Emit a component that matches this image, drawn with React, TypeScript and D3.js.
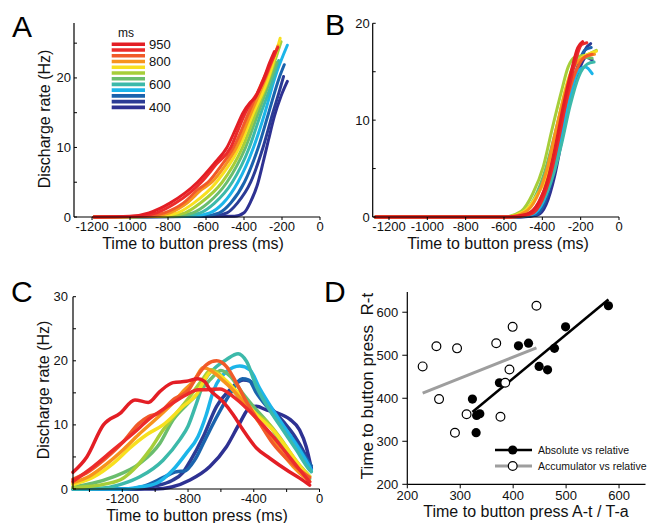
import React from "react";
import * as d3 from "d3";

type Pt = [number, number];

const FONT = "'Liberation Sans', Arial, Helvetica, sans-serif";

// Interval conditions (ms) and their colours (red = 950 ... navy = 400)
const intervals = [950, 900, 850, 800, 750, 700, 650, 600, 550, 500, 450, 400];
const seriesColors = [
  "#e31e25", "#ec2b2b", "#f15a29", "#f7941d", "#f8e01f", "#a6ce39",
  "#6abd6e", "#3cb9aa", "#1cb5e9", "#1a63ad", "#2b3b95", "#2e3192",
];
const legendLabels = ["950", "", "", "800", "", "", "", "600", "", "", "", "400"];

// Panel A: [time to button press (ms), discharge rate (Hz)]
const curvesA: Pt[][] = [
  [[-1190, 0], [-1000, 0.1], [-900, 0.6], [-790, 2], [-645, 5], [-560, 7.6], [-490, 10], [-445, 12.6], [-405, 15], [-370, 16.4], [-340, 17.2], [-295, 20], [-265, 22.2], [-240, 23.8]],
  [[-1190, 0], [-960, 0.1], [-860, 0.6], [-760, 2], [-625, 5], [-545, 7.6], [-470, 10], [-430, 12.6], [-392, 15], [-360, 16.6], [-330, 17.8], [-290, 20], [-255, 22.4], [-222, 24.4]],
  [[-1190, 0], [-920, 0.1], [-820, 0.6], [-720, 2], [-640, 4.0], [-590, 5], [-520, 7.4], [-455, 10], [-375, 15], [-295, 20], [-238, 23.4]],
  [[-1190, 0], [-890, 0.1], [-790, 0.6], [-700, 2], [-620, 4.0], [-570, 5], [-500, 7.4], [-440, 10], [-362, 15], [-285, 20], [-222, 24.6]],
  [[-1190, 0], [-850, 0.1], [-750, 0.6], [-665, 2], [-545, 5], [-425, 10], [-350, 15], [-272, 20], [-210, 25.7]],
  [[-1190, 0], [-810, 0.1], [-710, 0.6], [-630, 2], [-515, 5], [-408, 10], [-338, 15], [-268, 20], [-205, 25.2]],
  [[-1190, 0], [-770, 0.1], [-670, 0.6], [-590, 2], [-490, 5], [-392, 10], [-325, 15], [-258, 20], [-228, 22.2]],
  [[-1190, 0], [-730, 0.1], [-630, 0.6], [-555, 2], [-462, 5], [-372, 10], [-310, 15], [-245, 20], [-218, 22.5]],
  [[-1190, 0], [-680, 0.1], [-580, 0.6], [-510, 2], [-432, 5], [-350, 10], [-290, 15], [-238, 20], [-172, 24.7]],
  [[-1190, 0], [-620, 0.1], [-530, 0.6], [-470, 2], [-398, 5], [-325, 10], [-270, 15], [-215, 20], [-188, 21.9]],
  [[-1190, 0], [-570, 0.1], [-490, 0.6], [-435, 2], [-365, 5], [-300, 10], [-248, 15], [-215, 18], [-192, 20.2]],
  [[-1190, 0], [-450, 0.1], [-400, 0.6], [-365, 2.2], [-330, 4.6], [-300, 7.8], [-272, 11], [-240, 14.5], [-205, 17.4], [-172, 19.5]],
];

// Panel B
const curvesB: Pt[][] = [
  [[-1270, 0], [-600, 0], [-480, 0.3], [-420, 1.5], [-370, 4], [-330, 7.5], [-290, 11.5], [-250, 15], [-215, 17.5], [-190, 18.1]],
  [[-1270, 0], [-560, 0], [-460, 0.3], [-400, 1.8], [-355, 4.5], [-315, 8], [-275, 12], [-235, 15.5], [-195, 17.8], [-168, 18.0]],
  [[-1270, 0], [-560, 0], [-470, 0.4], [-410, 1.8], [-360, 4.6], [-320, 8], [-280, 11.5], [-230, 14.8], [-180, 16.5], [-140, 16.8]],
  [[-1270, 0], [-580, 0], [-490, 0.5], [-430, 2], [-375, 5], [-335, 8.5], [-290, 12.2], [-245, 15.2], [-190, 16.4], [-128, 16.8]],
  [[-1270, 0], [-590, 0], [-500, 0.5], [-430, 2.2], [-365, 5], [-320, 9.5], [-280, 13.2], [-240, 15.5], [-190, 16.5], [-118, 17.1]],
  [[-1270, 0], [-600, 0], [-510, 0.6], [-450, 2.4], [-395, 5.2], [-350, 9], [-300, 13], [-265, 15.5], [-230, 16.5], [-160, 16.8], [-118, 17.2]],
  [[-1270, 0], [-590, 0], [-500, 0.5], [-440, 2], [-385, 4.8], [-335, 8.5], [-285, 12.5], [-240, 15.4], [-190, 16.5], [-140, 16.4]],
  [[-1270, 0], [-560, 0], [-460, 0.3], [-400, 1.6], [-345, 4.2], [-300, 7.5], [-255, 11.5], [-210, 14.5], [-165, 15.8], [-130, 16]],
  [[-1270, 0], [-550, 0], [-450, 0.3], [-395, 1.6], [-345, 4.5], [-305, 8], [-260, 12], [-215, 15], [-175, 15.5], [-140, 14.8]],
  [[-1270, 0], [-540, 0], [-440, 0.2], [-390, 1.4], [-345, 4.3], [-305, 8], [-262, 12.2], [-220, 15.3], [-180, 17.2], [-145, 17.5]],
  [[-1270, 0], [-530, 0], [-430, 0.2], [-385, 1.4], [-340, 4.5], [-300, 8.3], [-258, 12.5], [-215, 15.3], [-170, 17.5], [-148, 17.9]],
  [[-1270, 0], [-520, 0], [-425, 0.2], [-380, 1.3], [-335, 4.3], [-298, 8], [-255, 12], [-212, 15], [-170, 16.5], [-140, 16.2]],
];

// Panel C
const curvesC: Pt[][] = [
  [[-1500, 2.6], [-1416, 5.0], [-1315, 10], [-1214, 11.8], [-1123, 13.9], [-1042, 13.5], [-972, 15.2], [-891, 16.6], [-810, 16.8], [-740, 17.2], [-700, 16.8], [-667, 15.5], [-586, 13.6], [-525, 11.6], [-465, 9.2], [-384, 6.4], [-303, 4.8], [-202, 3.0], [-121, 1.7], [-60, 0.6]],
  [[-1500, 1.2], [-1376, 3.5], [-1255, 6.1], [-1133, 8.7], [-1032, 11], [-911, 13.1], [-810, 14.7], [-739, 15.5], [-687, 15.5], [-606, 15.6], [-525, 14.4], [-444, 12.6], [-364, 10.5], [-283, 8.2], [-202, 5.6], [-121, 3.0], [-60, 1.1]],
  [[-1500, 1.5], [-1400, 2.8], [-1300, 4.8], [-1200, 7.2], [-1100, 10.2], [-1040, 11.3], [-980, 11.8], [-891, 13.9], [-790, 15.7], [-747, 17.5], [-687, 19.4], [-626, 20.0], [-566, 19.1], [-505, 16.5], [-444, 13.6], [-364, 10.3], [-283, 7.1], [-202, 4.8], [-121, 3.0], [-60, 1.8]],
  [[-1500, 1.0], [-1400, 2.0], [-1300, 3.8], [-1200, 6.0], [-1100, 8.5], [-1000, 10.8], [-900, 13.2], [-820, 15.5], [-760, 17.0], [-709, 18.9], [-660, 18.5], [-600, 17.2], [-540, 15.8], [-470, 13.8], [-400, 11.5], [-320, 8.8], [-240, 6.0], [-160, 3.5], [-90, 1.8], [-60, 1.2]],
  [[-1500, 0.7], [-1380, 1.8], [-1255, 4.0], [-1150, 6.5], [-1050, 8.5], [-952, 10], [-830, 12.9], [-750, 14.7], [-700, 17.0], [-660, 18.3], [-600, 17.6], [-540, 16.2], [-485, 14.7], [-384, 11.6], [-283, 9.2], [-182, 5.8], [-101, 3.0], [-60, 1.9]],
  [[-1500, 0.2], [-1300, 0.8], [-1200, 1.6], [-1133, 3.0], [-1032, 6.1], [-952, 9.2], [-871, 11.8], [-790, 14.4], [-720, 16.8], [-660, 18.6], [-620, 18.2], [-560, 16.5], [-480, 14], [-400, 12], [-320, 10.5], [-240, 8.0], [-160, 5.0], [-90, 2.8], [-60, 2.0]],
  [[-1500, 0.3], [-1380, 0.9], [-1255, 1.9], [-1093, 4.0], [-972, 7.1], [-891, 10.8], [-810, 13.1], [-739, 14.9], [-660, 17.2], [-600, 18.5], [-540, 17.5], [-470, 15.0], [-400, 12.8], [-320, 10.5], [-240, 7.5], [-160, 4.5], [-90, 2.3], [-60, 1.6]],
  [[-1500, 0], [-1300, 0.2], [-1200, 0.8], [-1093, 1.9], [-952, 4.5], [-850, 7.7], [-800, 9.8], [-747, 13.5], [-707, 16.5], [-626, 19.1], [-566, 20.2], [-495, 21.1], [-444, 19.9], [-384, 16], [-303, 12.3], [-222, 9.2], [-141, 6.1], [-61, 3.0], [-50, 2.7]],
  [[-1500, 0], [-1200, 0], [-1100, 0.3], [-992, 0.9], [-891, 3.0], [-810, 5.6], [-739, 8.2], [-690, 11.5], [-647, 15.2], [-566, 18.3], [-485, 19.2], [-424, 18.6], [-364, 15.7], [-283, 12.3], [-202, 9.2], [-121, 6.1], [-61, 3.5], [-50, 3.0]],
  [[-1500, 0], [-1150, 0], [-1050, 0.6], [-950, 1.8], [-870, 2.7], [-820, 2.8], [-760, 4.5], [-700, 7.5], [-620, 11.5], [-540, 15.0], [-470, 17.2], [-430, 17.0], [-384, 15], [-303, 12.3], [-222, 9.7], [-141, 7.1], [-61, 4.0], [-50, 3.6]],
  [[-1500, 0], [-1100, 0], [-1000, 0.5], [-900, 1.3], [-830, 2.6], [-788, 4.3], [-707, 8.2], [-626, 12.9], [-545, 15.5], [-465, 17.0], [-420, 16.8], [-380, 15.2], [-300, 12.8], [-220, 10.5], [-150, 8.2], [-90, 5.5], [-50, 3.2]],
  [[-1500, 0], [-1000, 0], [-900, 0.3], [-788, 1.4], [-667, 3.5], [-566, 6.6], [-485, 10.3], [-420, 12.8], [-384, 12.9], [-320, 12.3], [-262, 11.9], [-182, 10.9], [-121, 9.2], [-81, 6.6], [-50, 3.2]],
];

// Panel D: absolute vs relative (filled) and accumulator vs relative (open)
const absX = [323, 330, 331, 337, 374, 410, 429, 449, 465, 478, 499, 580];
const absY = [398, 320, 360, 364, 436, 522, 528, 474, 466, 516, 566, 615];
const accX = [229, 255, 294, 260, 290, 312, 368, 376, 393, 385, 399, 444];
const accY = [474, 521, 516, 398, 320, 363, 528, 357, 467, 436, 566, 615];
const dLegend = ["Absolute vs relative", "Accumulator vs relative"];

// Tick values
const timeTicksAB = [-1200, -1000, -800, -600, -400, -200, 0];
const rateTicksA = [0, 5, 10, 15, 20, 25];
const rateLabelsA = [0, 10, 20];
const rateTicksB = [0, 5, 10, 15, 20];
const rateLabelsB = [0, 10, 20];
const timeTicksC = [-1400, -1200, -1000, -800, -600, -400, -200, 0];
const timeLabelsC = [-1200, -800, -400, 0];
const rateTicksC = [0, 5, 10, 15, 20, 25, 30];
const rateLabelsC = [0, 10, 20, 30];
const dTicks = [200, 300, 400, 500, 600];

type Scale = d3.ScaleLinear<number, number>;

function XAxis({ s, y, ticks, labels, len, off }: { s: Scale; y: number; ticks: number[]; labels: number[]; len: number; off: number }) {
  const [r0, r1] = s.range();
  return (
    <g>
      <line x1={r0} x2={r1} y1={y} y2={y} stroke="#000" strokeWidth={1.2} />
      {ticks.map((t) => (
        <line key={"t" + t} x1={s(t)} x2={s(t)} y1={y} y2={y + len} stroke="#000" strokeWidth={1} />
      ))}
      {labels.map((t) => (
        <text key={"l" + t} x={s(t)} y={y + off} textAnchor="middle" fontSize={13} fontFamily={FONT} fill="#111">
          {String(t)}
        </text>
      ))}
    </g>
  );
}

function YAxis({ s, x, ticks, labels, len, gap }: { s: Scale; x: number; ticks: number[]; labels: number[]; len: number; gap: number }) {
  const [r0, r1] = s.range();
  return (
    <g>
      <line x1={x} x2={x} y1={r0} y2={r1} stroke="#000" strokeWidth={1.2} />
      {ticks.map((t) => (
        <line key={"t" + t} x1={x} x2={x + len} y1={s(t)} y2={s(t)} stroke="#000" strokeWidth={1} />
      ))}
      {labels.map((t) => (
        <text key={"l" + t} x={x - gap} y={s(t)} dy="0.35em" textAnchor="end" fontSize={13} fontFamily={FONT} fill="#111">
          {String(t)}
        </text>
      ))}
    </g>
  );
}

function Curves({ curves, sx, sy, width }: { curves: Pt[][]; sx: Scale; sy: Scale; width: number }) {
  const gen = d3
    .line<Pt>()
    .x((d) => sx(d[0]))
    .y((d) => sy(d[1]))
    .curve(d3.curveMonotoneX);
  const order = curves.map((_, i) => i).reverse();
  return (
    <g>
      {order.map((i) => (
        <path key={i} d={gen(curves[i]) || ""} fill="none" stroke={seriesColors[i]} strokeWidth={width} strokeLinejoin="round" strokeLinecap="round" />
      ))}
    </g>
  );
}

function fit(xs: number[], ys: number[]) {
  const mx = d3.mean(xs) as number;
  const my = d3.mean(ys) as number;
  let sxy = 0;
  let sxx = 0;
  xs.forEach((x, i) => {
    sxy += (x - mx) * (ys[i] - my);
    sxx += (x - mx) * (x - mx);
  });
  const b = sxy / sxx;
  const a = my - b * mx;
  const x0 = d3.min(xs) as number;
  const x1 = d3.max(xs) as number;
  return [
    [x0, a + b * x0],
    [x1, a + b * x1],
  ] as Pt[];
}

export default function App() {
  const ax = d3.scaleLinear().domain([-1295, 0]).range([74, 320]);
  const ay = d3.scaleLinear().domain([0, 27.9]).range([217, 23]);
  const bx = d3.scaleLinear().domain([-1285, 0]).range([372.7, 619]);
  const by = d3.scaleLinear().domain([0, 20]).range([217, 23.3]);
  const cx = d3.scaleLinear().domain([-1500, 0]).range([73, 319.5]);
  const cy = d3.scaleLinear().domain([0, 30]).range([489, 296.7]);
  const dx = d3.scaleLinear().domain([200, 650]).range([407.3, 645.5]);
  const dy = d3.scaleLinear().domain([200, 647]).range([484.3, 292]);

  const absLine = fit(absX, absY);
  const accLine = fit(accX, accY);
  const seg = d3
    .line<Pt>()
    .x((d) => dx(d[0]))
    .y((d) => dy(d[1]));

  const titleStyle = { fontSize: 16, fontFamily: FONT, fill: "#111" };
  const letterStyle = { fontSize: 30, fontFamily: FONT, fill: "#000" };

  return (
    <svg width={649} height={523} style={{ position: "absolute", left: 0, top: 0, background: "#fff" }}>
      {/* Panel letters */}
      <text x={12} y={37} {...letterStyle}>A</text>
      <text x={325} y={35} {...letterStyle}>B</text>
      <text x={11} y={302} {...letterStyle}>C</text>
      <text x={324} y={302} {...letterStyle}>D</text>

      {/* Panel A */}
      <Curves curves={curvesA} sx={ax} sy={ay} width={3} />
      <XAxis s={ax} y={217} ticks={timeTicksAB} labels={timeTicksAB} len={3} off={14} />
      <YAxis s={ay} x={74} ticks={rateTicksA} labels={rateLabelsA} len={3} gap={3} />
      <text transform="translate(50,119) rotate(-90)" textAnchor="middle" {...titleStyle}>Discharge rate (Hz)</text>
      <text x={193} y={248.5} textAnchor="middle" {...titleStyle}>Time to button press (ms)</text>
      {/* Legend A */}
      <text x={118} y={33} dy="0.35em" fontSize={12} fontFamily={FONT} fill="#111">ms</text>
      {intervals.map((v, i) => (
        <g key={v}>
          <line x1={111.7} x2={145} y1={44.3 + i * 5.73} y2={44.3 + i * 5.73} stroke={seriesColors[i]} strokeWidth={3.6} />
          {legendLabels[i] && (
            <text x={149} y={44.3 + i * 5.73} dy="0.35em" fontSize={13} fontFamily={FONT} fill="#111">
              {legendLabels[i]}
            </text>
          )}
        </g>
      ))}

      {/* Panel B */}
      <Curves curves={curvesB} sx={bx} sy={by} width={3} />
      <XAxis s={bx} y={217} ticks={timeTicksAB} labels={timeTicksAB} len={3} off={14} />
      <YAxis s={by} x={372.7} ticks={rateTicksB} labels={rateLabelsB} len={3} gap={3} />
      <text x={498} y={248.5} textAnchor="middle" {...titleStyle}>Time to button press (ms)</text>

      {/* Panel C */}
      <Curves curves={curvesC} sx={cx} sy={cy} width={3.5} />
      <XAxis s={cx} y={489} ticks={timeTicksC} labels={timeLabelsC} len={3} off={14} />
      <YAxis s={cy} x={73} ticks={rateTicksC} labels={rateLabelsC} len={3} gap={5} />
      <text transform="translate(49,390) rotate(-90)" textAnchor="middle" {...titleStyle}>Discharge rate (Hz)</text>
      <text x={197} y={520.5} textAnchor="middle" {...titleStyle}>Time to button press (ms)</text>

      {/* Panel D */}
      <path d={seg(accLine) || ""} stroke="#9e9e9e" strokeWidth={3} fill="none" />
      <path d={seg(absLine) || ""} stroke="#000" strokeWidth={2.6} fill="none" />
      {absX.map((v, i) => (
        <circle key={"a" + i} cx={dx(v)} cy={dy(absY[i])} r={4.6} fill="#000" />
      ))}
      {accX.map((v, i) => (
        <circle key={"o" + i} cx={dx(v)} cy={dy(accY[i])} r={4.4} fill="#fff" stroke="#000" strokeWidth={1.2} />
      ))}
      <XAxis s={dx} y={484.3} ticks={dTicks} labels={dTicks} len={4} off={16} />
      <YAxis s={dy} x={407.3} ticks={dTicks} labels={dTicks} len={-5} gap={9} />
      <text transform="translate(373,386) rotate(-90)" textAnchor="middle" fontSize={17} fontFamily={FONT} fill="#111" style={{ whiteSpace: "pre" }}>
        {"Time to button press  R-t"}
      </text>
      <text x={526} y={517} textAnchor="middle" {...titleStyle}>Time to button press A-t / T-a</text>
      {/* Legend D */}
      <line x1={495} x2={532} y1={450} y2={450} stroke="#000" strokeWidth={2.6} />
      <circle cx={512.7} cy={450} r={4.6} fill="#000" />
      <text x={538} y={450} dy="0.35em" fontSize={10.5} fontFamily={FONT} fill="#111">{dLegend[0]}</text>
      <line x1={495} x2={532} y1={466} y2={466} stroke="#9e9e9e" strokeWidth={3} />
      <circle cx={512.7} cy={466} r={4.4} fill="#fff" stroke="#000" strokeWidth={1.2} />
      <text x={538} y={466} dy="0.35em" fontSize={10.5} fontFamily={FONT} fill="#111">{dLegend[1]}</text>
    </svg>
  );
}
